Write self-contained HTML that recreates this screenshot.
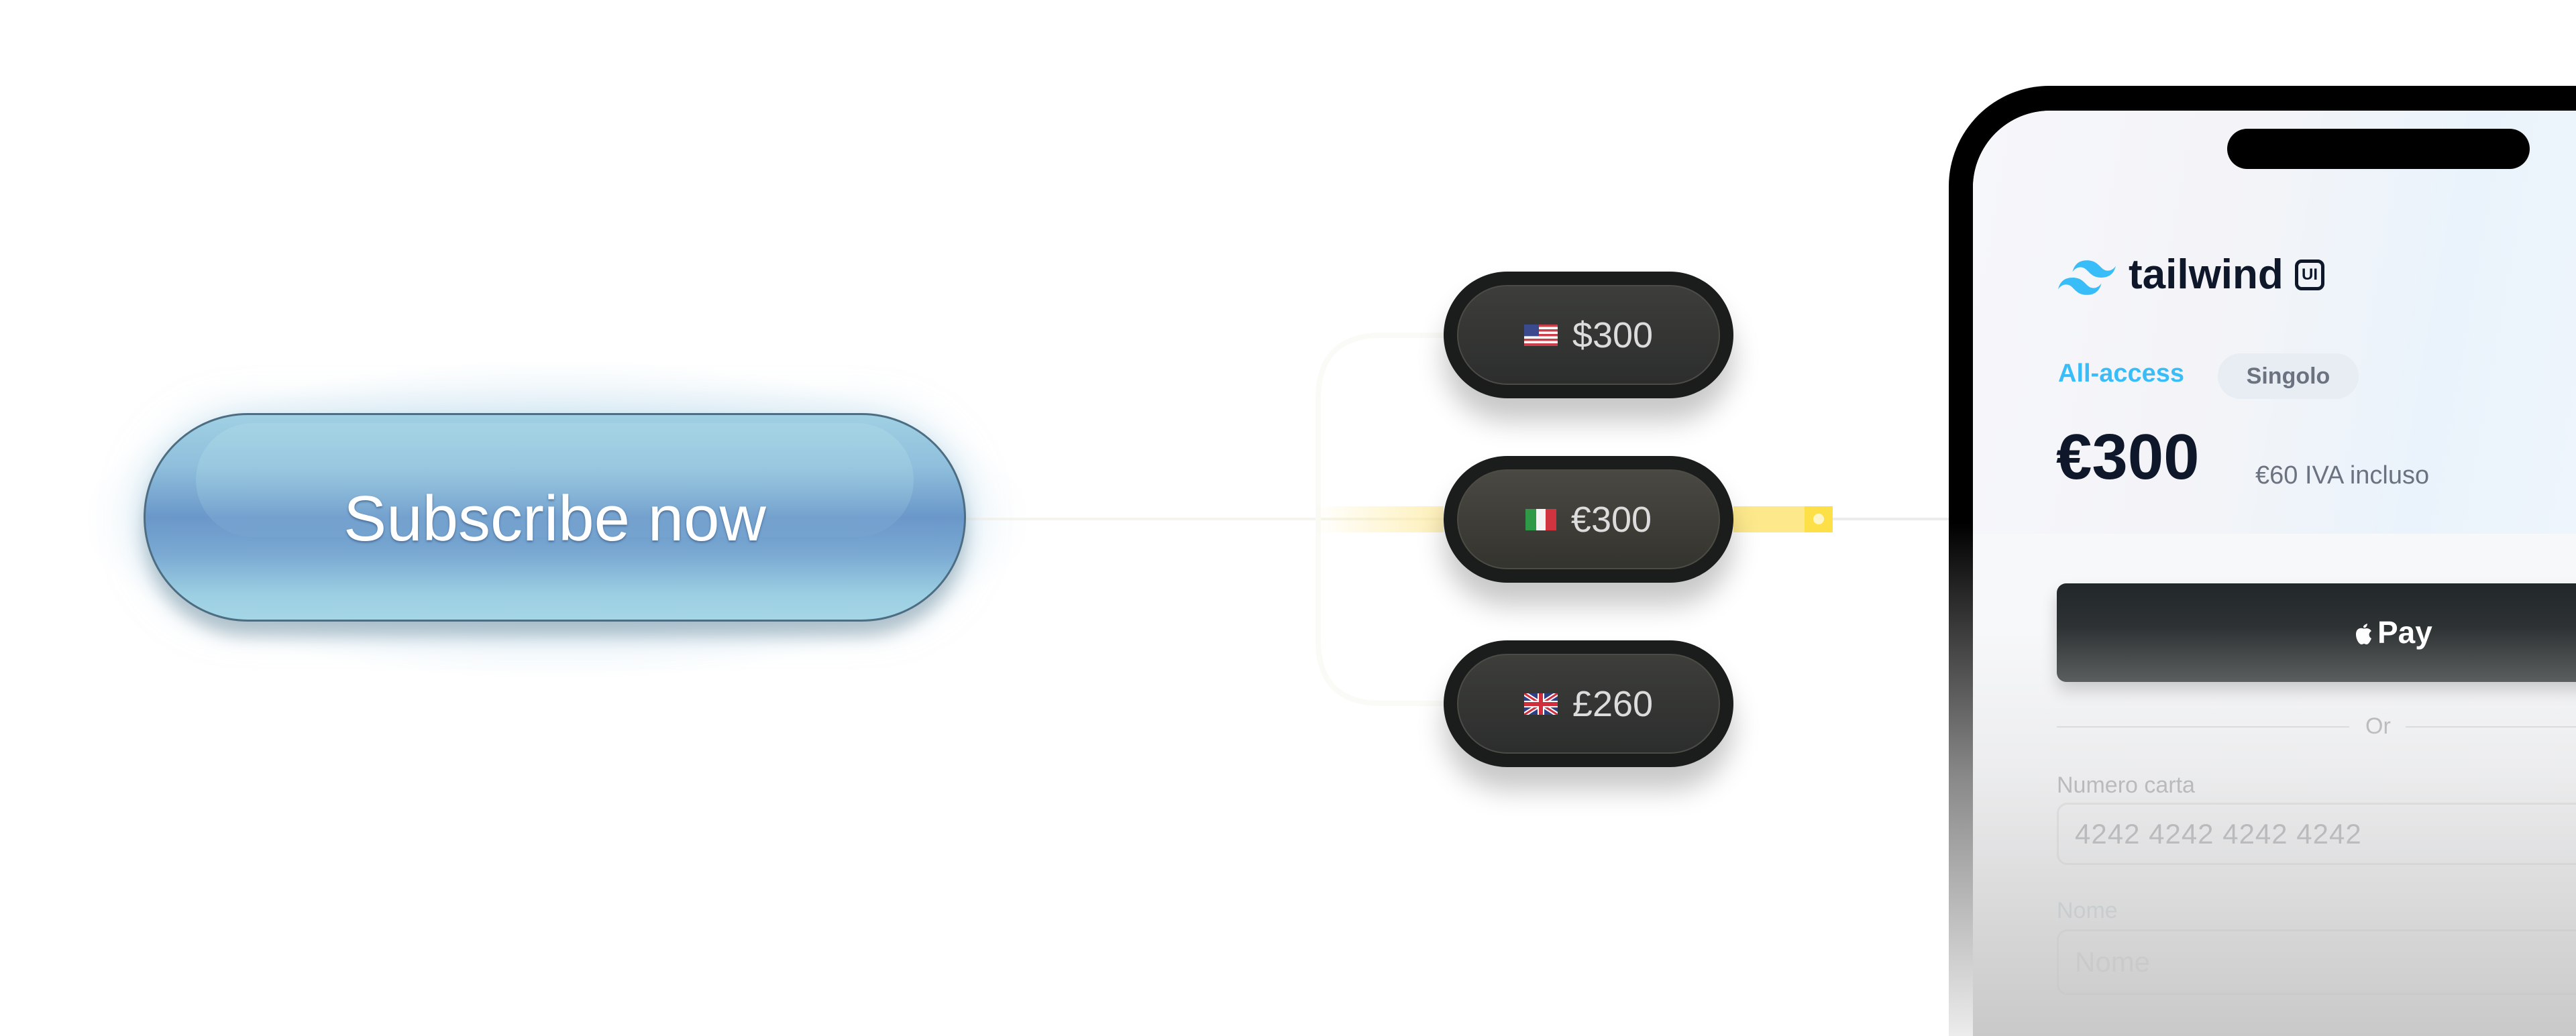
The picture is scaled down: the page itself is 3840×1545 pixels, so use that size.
<!DOCTYPE html>
<html><head><meta charset="utf-8">
<style>
*{margin:0;padding:0;box-sizing:border-box}
html,body{width:3840px;height:1545px;overflow:hidden;background:#fff;font-family:"Liberation Sans",sans-serif}
#root{position:relative;width:3840px;height:1545px;overflow:hidden;background:#fff}
.abs{position:absolute}
.glow{position:absolute;left:130px;top:540px;width:1400px;height:470px;border-radius:240px;background:radial-gradient(ellipse at center,rgba(180,215,235,0.55) 0%,rgba(200,225,240,0.3) 50%,rgba(255,255,255,0) 72%)}
.btn{position:absolute;left:214px;top:616px;width:1226px;height:311px;border-radius:156px;border:3px solid #4d6d82;
background:linear-gradient(180deg,#9fd0e3 0%,#8fbfdc 25%,#6a97c9 50%,#7aa9d2 68%,#9ccfe2 88%,#a4d6e6 100%);
box-shadow:0 22px 24px rgba(80,110,125,0.35),0 0 60px rgba(160,205,230,0.5)}
.btn .hl{position:absolute;left:75px;top:12px;width:1070px;height:170px;border-radius:90px;background:linear-gradient(180deg,rgba(170,215,230,0.6),rgba(140,185,220,0.1))}
.btn span{position:absolute;left:0;right:0;top:100px;text-align:center;color:#fff;font-size:96px;line-height:110px;text-shadow:0 2px 3px rgba(40,70,110,0.6)}
.pill{position:absolute;left:2152px;width:432px;height:189px;border-radius:95px;background:#1b1d1c;box-shadow:0 34px 40px rgba(0,0,0,0.22)}
.pill .in{position:absolute;left:20px;top:20px;right:20px;bottom:20px;border-radius:75px;border:2px solid #4c4b45;background:linear-gradient(180deg,#3d3e3b,#2c2e2d);display:flex;align-items:center;justify-content:center;color:#dcdcdc;font-size:54px}
.pill.mid .in{background:linear-gradient(180deg,#4a4842,#34342f)}
.pill svg{margin-right:22px}
</style></head><body><div id="root">
<div class="glow"></div>
<svg class="abs" style="left:0;top:0" width="3840" height="1545">
<defs>
<linearGradient id="yl" x1="0" x2="1"><stop offset="0" stop-color="#fde68a" stop-opacity="0"/><stop offset="1" stop-color="#fde68a" stop-opacity="0.6"/></linearGradient>
</defs>
<line x1="1440" y1="774" x2="2152" y2="774" stroke="#f6f4ee" stroke-width="4"/>
<path d="M2152 500 H2060 Q1965 500 1965 595 V955 Q1965 1049 2060 1049 H2152" fill="none" stroke="#fafaf6" stroke-width="8"/>
<rect x="1960" y="755" width="192" height="39" fill="url(#yl)"/>
<rect x="2584" y="755" width="112" height="39" fill="#fde98c"/>
<rect x="2690" y="755" width="42" height="39" fill="#fde047"/>
<circle cx="2711" cy="774" r="8" fill="#fff6c8"/>
<line x1="2732" y1="774" x2="2905" y2="774" stroke="#ececec" stroke-width="4"/>
</svg>
<div class="btn"><div class="hl"></div><span>Subscribe now</span></div>

<div class="pill" style="top:405px"><div class="in">
<svg width="50" height="32" viewBox="0 0 50 32"><rect width="50" height="32" fill="#fff"/><g fill="#c9404a"><rect y="0" width="50" height="3.5"/><rect y="7" width="50" height="3.5"/><rect y="14" width="50" height="3.5"/><rect y="21" width="50" height="3.5"/><rect y="28" width="50" height="4"/></g><rect width="22" height="17" fill="#3b4a8c"/></svg>$300</div></div>
<div class="pill mid" style="top:680px"><div class="in">
<svg width="46" height="32" viewBox="0 0 46 32"><rect width="16" height="32" fill="#2e9a48"/><rect x="16" width="14" height="32" fill="#f4f4f4"/><rect x="30" width="16" height="32" fill="#d1343e"/></svg>€300</div></div>
<div class="pill" style="top:955px"><div class="in">
<svg width="50" height="32" viewBox="0 0 50 32"><rect width="50" height="32" fill="#2f3f86"/><path d="M0 0L50 32M50 0L0 32" stroke="#fff" stroke-width="7"/><path d="M0 0L50 32M50 0L0 32" stroke="#cf2f3c" stroke-width="3"/><path d="M25 0V32M0 16H50" stroke="#fff" stroke-width="10"/><path d="M25 0V32M0 16H50" stroke="#cf2f3c" stroke-width="6"/></svg>£260</div></div>

<!-- phone -->
<div class="abs" style="left:2905px;top:128px;width:935px;height:1417px;border-radius:150px 0 0 0;background:linear-gradient(180deg,#000 0%,#000 46%,#3a3a3a 57%,#8a8a8a 73%,#c0c0c0 88%,#ececec 100%);overflow:hidden">
 <div class="abs" style="left:36px;top:37px;width:900px;height:1380px;border-radius:115px 0 0 0;overflow:hidden;background:#f7f8fa">
  <div class="abs" style="left:0;top:0;width:900px;height:631px;background:linear-gradient(100deg,#f6f7fa 0%,#f4f4f8 40%,#eaf3fb 75%,#eef5fc 100%)"></div>
  <div class="abs" style="left:379px;top:27px;width:451px;height:60px;border-radius:30px;background:#000"></div>
  <svg class="abs" style="left:127px;top:223px" width="86" height="52" viewBox="0 4.8 24 14.4"><path fill="#38bdf8" d="M12 4.8c-3.2 0-5.2 1.6-6 4.8 1.2-1.6 2.6-2.2 4.2-1.8.913.228 1.565.89 2.288 1.624C13.666 10.618 15.027 12 18 12c3.2 0 5.2-1.6 6-4.8-1.2 1.6-2.6 2.2-4.2 1.8-.913-.228-1.565-.89-2.288-1.624C16.337 6.182 14.976 4.8 12 4.8zm-6 7.2c-3.2 0-5.2 1.6-6 4.8 1.2-1.6 2.6-2.2 4.2-1.8.913.228 1.565.89 2.288 1.624 1.177 1.194 2.538 2.576 5.512 2.576 3.2 0 5.2-1.6 6-4.8-1.2 1.6-2.6 2.2-4.2 1.8-.913-.228-1.565-.89-2.288-1.624C10.337 13.382 8.976 12 6 12z"/></svg>
  <div class="abs" style="left:232px;top:205px;font-size:62px;font-weight:700;color:#0f172a;line-height:80px">tailwind</div>
  <div class="abs" style="left:480px;top:222px;width:44px;height:46px;border:5px solid #0f172a;border-radius:10px;font-size:24px;font-weight:700;color:#0f172a;text-align:center;line-height:36px">UI</div>
  <div class="abs" style="left:127px;top:370px;font-size:38px;font-weight:700;color:#38bdf8;line-height:44px">All-access</div>
  <div class="abs" style="left:365px;top:362px;width:210px;height:68px;border-radius:34px;background:#e8edf3;color:#6b7280;font-size:34px;font-weight:700;text-align:center;line-height:68px">Singolo</div>
  <div class="abs" style="left:124px;top:462px;font-size:96px;font-weight:700;color:#0f172a;line-height:110px">€300</div>
  <div class="abs" style="left:421px;top:520px;font-size:38px;color:#6b7280;line-height:48px">€60 IVA incluso</div>
  <div class="abs" style="left:125px;top:705px;width:1000px;height:147px;border-radius:14px;background:linear-gradient(180deg,#22272a,#3b3f3f);box-shadow:0 14px 24px rgba(0,0,0,0.2);color:#fff;font-size:46px;font-weight:700;line-height:147px;padding-left:440px">
   <svg width="34" height="40" viewBox="0 0 34 40" style="vertical-align:-4px;margin-right:4px"><path fill="#fff" d="M17 11c2-3 6-4 6-4s0 4-3 6c-2 1-3 0-3-2zM16 14c-3-1-10 0-10 9 0 8 5 15 8 15 2 0 3-1 4-1s2 1 4 1c3 0 6-6 7-9-4-2-5-8 0-11-2-3-5-4-7-4-2 0-4 1-6 0z"/></svg>Pay</div>
  <div class="abs" style="left:125px;top:918px;width:436px;height:2px;background:#d8d8d8"></div>
  <div class="abs" style="left:645px;top:918px;width:500px;height:2px;background:#d8d8d8"></div>
  <div class="abs" style="left:585px;top:898px;font-size:34px;color:#a8a8a8;line-height:40px">Or</div>
  <div class="abs" style="left:125px;top:986px;font-size:34px;color:#8d9196;line-height:40px">Numero carta</div>
  <div class="abs" style="left:125px;top:1032px;width:1000px;height:93px;border:3px solid #dcdcdc;border-radius:16px;font-size:42px;color:#8a8d92;line-height:87px;padding-left:24px;letter-spacing:1px">4242 4242 4242 4242</div>
  <div class="abs" style="left:125px;top:1173px;font-size:34px;color:#b4c6cf;line-height:40px">Nome</div>
  <div class="abs" style="left:125px;top:1221px;width:1000px;height:98px;border:3px solid #dadada;border-radius:16px;font-size:42px;color:#c9c9c9;line-height:92px;padding-left:24px">Nome</div>
  <div class="abs" style="left:0;top:770px;width:900px;height:610px;background:linear-gradient(180deg,rgba(255,255,255,0) 0%,rgba(225,225,225,0.5) 35%,rgba(205,205,205,0.8) 75%,rgba(197,197,197,0.92) 100%)"></div>
 </div>
</div>
</div></body></html>
